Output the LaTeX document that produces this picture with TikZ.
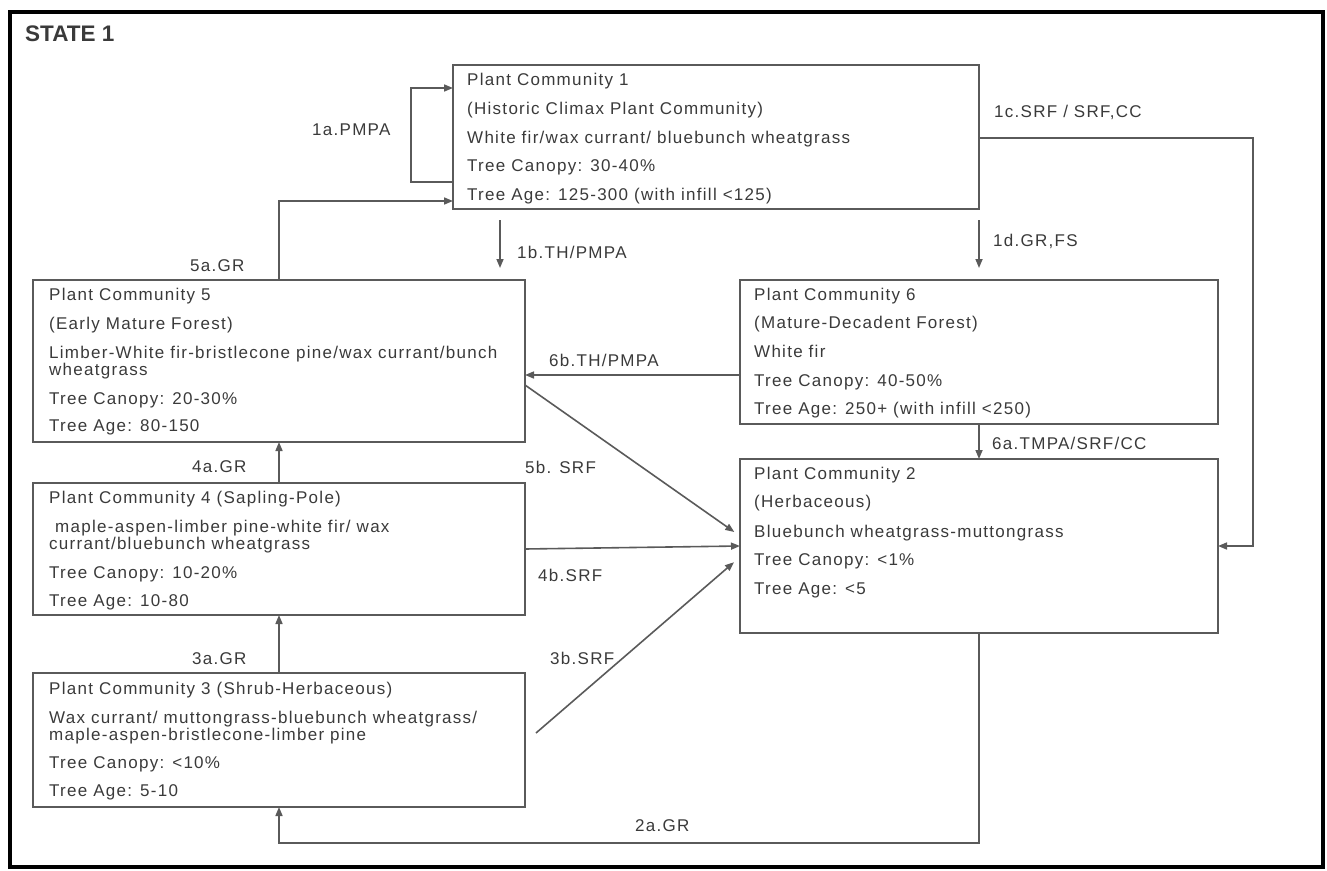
\documentclass[tikz,border=0pt]{standalone}
\usepackage{fontspec}
\setmainfont{Liberation Sans}[LetterSpace=7.5]
\newfontfamily\statefont{Liberation Sans}
\usetikzlibrary{arrows.meta}
\definecolor{ink}{HTML}{3A3A3A}
\definecolor{edge}{HTML}{5A5A5A}
\newcommand{\tline}[4]{\node[txt] (#1) at (#2,{#3+6}) {#4};}
\begin{document}
\begin{tikzpicture}[x=1pt,y=-1pt,
  box/.style={draw=edge, line width=1.6pt, anchor=north west, inner sep=0pt, outer sep=0pt},
  txt/.style={anchor=base west, inner sep=0pt, text=ink, font=\fontsize{17}{17}\selectfont},
  conn/.style={draw=edge, line width=1.6pt},
  arr/.style={conn, -{Triangle[length=9pt,width=7pt]}}
]
\useasboundingbox (0,0) rectangle (1327,870);
% outer frame
\draw[line width=4.5pt, black] (10,12) rectangle (1323,867);
\node[anchor=base west, inner sep=0pt, text=ink, font=\statefont\bfseries\fontsize{22.5}{22.5}\selectfont] (state) at (25,41) {STATE 1};

% boxes
\node[box, minimum width=526pt, minimum height=144pt] (b1) at (453,65) {};
\node[box, minimum width=492pt, minimum height=162pt] (b5) at (33,280) {};
\node[box, minimum width=478pt, minimum height=144pt] (b6) at (740,280) {};
\node[box, minimum width=478pt, minimum height=174pt] (b2) at (740,459) {};
\node[box, minimum width=492pt, minimum height=132pt] (b4) at (33,483) {};
\node[box, minimum width=492pt, minimum height=134pt] (b3) at (33,673) {};

% box texts
\tline{t1a}{467}{79}{Plant Community 1}
\tline{t1b}{467}{108}{(Historic Climax Plant Community)}
\tline{t1c}{467}{137}{White fir/wax currant/ bluebunch wheatgrass}
\tline{t1d}{467}{165}{Tree Canopy: 30-40\%}
\tline{t1e}{467}{194}{Tree Age: 125-300 (with infill <125)}

\tline{t5a}{49}{294}{Plant Community 5}
\tline{t5b}{49}{323}{(Early Mature Forest)}
\tline{t5c}{49}{352}{Limber-White fir-bristlecone pine/wax currant/bunch}
\tline{t5d}{49}{369}{wheatgrass}
\tline{t5e}{49}{398}{Tree Canopy: 20-30\%}
\tline{t5f}{49}{425}{Tree Age: 80-150}

\tline{t6a}{754}{294}{Plant Community 6}
\tline{t6b}{754}{322}{(Mature-Decadent Forest)}
\tline{t6c}{754}{351}{White fir}
\tline{t6d}{754}{380}{Tree Canopy: 40-50\%}
\tline{t6e}{754}{408}{Tree Age: 250+ (with infill <250)}

\tline{t2a}{754}{473}{Plant Community 2}
\tline{t2b}{754}{501}{(Herbaceous)}
\tline{t2c}{754}{531}{Bluebunch wheatgrass-muttongrass}
\tline{t2d}{754}{559}{Tree Canopy: <1\%}
\tline{t2e}{754}{588}{Tree Age: <5}

\tline{t4a}{49}{497}{Plant Community 4 (Sapling-Pole)}
\tline{t4b}{55}{526}{maple-aspen-limber pine-white fir/ wax}
\tline{t4c}{49}{543}{currant/bluebunch wheatgrass}
\tline{t4d}{49}{572}{Tree Canopy: 10-20\%}
\tline{t4e}{49}{600}{Tree Age: 10-80}

\tline{t3a}{49}{688}{Plant Community 3 (Shrub-Herbaceous)}
\tline{t3b}{49}{717}{Wax currant/ muttongrass-bluebunch wheatgrass/}
\tline{t3c}{49}{734}{maple-aspen-bristlecone-limber pine}
\tline{t3d}{49}{762}{Tree Canopy: <10\%}
\tline{t3e}{49}{790}{Tree Age: 5-10}

% connectors
\draw[arr] ([yshift=27pt]b1.south west) -- ++(-42,0) |- ([yshift=-23pt]b1.north west);
\draw[arr] (b5.north) |- (b1.west |- 0,201);
\draw[arr, shorten <=11pt, shorten >=12pt] (b1.south -| 500,0) -- (b5.north -| 500,0);
\draw[arr, shorten <=11pt, shorten >=12pt] (b1.south east) -- (b6.north -| b1.south east);
\draw[arr] (b1.east |- 0,138) -- (1253,138) |- (b2.east |- 0,546);
\draw[arr] (b6.west |- 0,375) -- (b5.east |- 0,375);
\draw[arr] (b6.south) -- (b2.north);
\draw[arr, shorten >=7pt] (b5.east |- 0,385) -- (b2.west |- 0,536);
\draw[arr] (b4.east |- 0,549) -- (b2.west |- 0,546);
\coordinate (s3b) at (536,733);
\draw[arr, shorten >=8pt] (s3b) -- (b2.west |- 0,557);
\draw[arr] (b2.south) -- (b2.south |- 0,843) -| (b3.south);
\draw[arr] (b4.north) -- (b5.south);
\draw[arr] (b3.north) -- (b4.south);

% connector labels
\tline{l1a}{312}{129}{1a.PMPA}
\tline{l5a}{190}{265}{5a.GR}
\tline{l1b}{517}{252}{1b.TH/PMPA}
\tline{l1d}{993}{240}{1d.GR,FS}
\tline{l1c}{994}{111}{1c.SRF / SRF,CC}
\tline{l6b}{549}{360}{6b.TH/PMPA}
\tline{l6a}{992}{443}{6a.TMPA/SRF/CC}
\tline{l5b}{525}{467}{5b. SRF}
\tline{l4a}{192}{466}{4a.GR}
\tline{l4b}{538}{575}{4b.SRF}
\tline{l3a}{192}{658}{3a.GR}
\tline{l3b}{550}{658}{3b.SRF}
\tline{l2a}{635}{825}{2a.GR}
\end{tikzpicture}
\end{document}
